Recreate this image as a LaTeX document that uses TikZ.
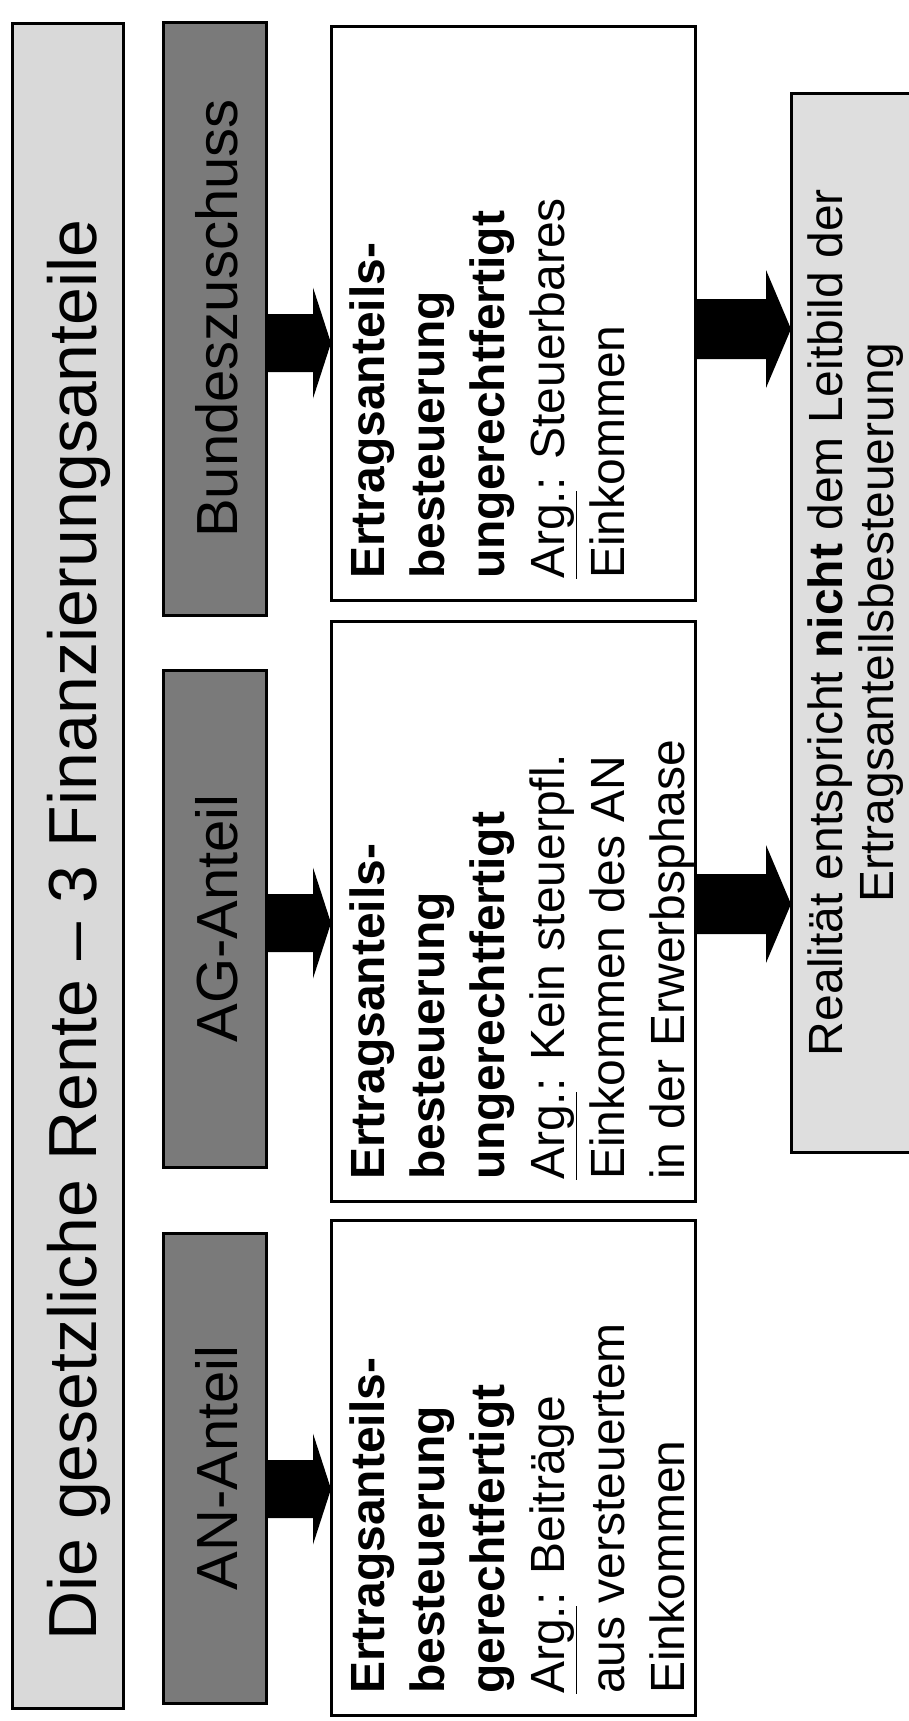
\documentclass[tikz,border=0pt]{standalone}
\usepackage{fontspec}
\setmainfont{Liberation Sans}
\usetikzlibrary{calc}
% block arrow from #1 to #2: shaft half width #3, head half width #4, head length #5
\newcommand{\blockarr}[5]{%
  \fill[black] let \p1=(#1), \p2=(#2) in
    (\x1,{\y1+#3}) -- ({\x2-#5},{\y1+#3}) -- ({\x2-#5},{\y1+#4}) -- (\x2,\y1) --
    ({\x2-#5},{\y1-#4}) -- ({\x2-#5},{\y1-#3}) -- (\x1,{\y1-#3}) -- cycle;}
\begin{document}
\begin{tikzpicture}[x=1pt,y=-1pt,
  box/.style={draw=black, line width=3pt, rectangle, inner sep=0pt, outer sep=0pt},
  titlebox/.style={box, fill=black!15},
  labelbox/.style={box, fill=black!52},
  textbox/.style={box, fill=white},
  resultbox/.style={box, fill=black!13},
  vtext/.style={rotate=90, inner sep=0pt, text=black},
  titletext/.style={vtext, anchor=base, font=\fontsize{68}{80}\selectfont},
  labeltext/.style={vtext, anchor=base, font=\fontsize{58}{70}\selectfont},
  bodytext/.style={vtext, anchor=north west, align=left, font=\fontsize{48}{60}\selectfont},
  resulttext/.style={vtext, anchor=north, align=center, font=\fontsize{48}{51}\selectfont}]

\useasboundingbox (0,0) rectangle (909,1721);

% boxes
\node[titlebox, minimum width=111pt, minimum height=1685pt] (title) at (67.5,865.5) {};
\node[labelbox, minimum width=103pt, minimum height=593pt] (bundG) at (214.5,318.5) {};
\node[labelbox, minimum width=103pt, minimum height=497pt] (agG) at (214.5,918.5) {};
\node[labelbox, minimum width=103pt, minimum height=470pt] (anG) at (214.5,1468) {};
\node[textbox, minimum width=364pt, minimum height=574pt] (bundW) at (513,313) {};
\node[textbox, minimum width=364pt, minimum height=580pt] (agW) at (513,911) {};
\node[textbox, minimum width=364pt, minimum height=495pt] (anW) at (513,1467.5) {};
\node[resultbox, minimum width=139pt, minimum height=1059pt] (result) at (860.5,622.5) {};

% texts
\node[titletext] (titleT) at (96,930) {Die gesetzliche Rente – 3 Finanzierungsanteile};
\node[labeltext] (bundL) at ($(bundG.center)+(22.5,0)$) {Bundeszuschuss};
\node[labeltext] (agL) at ($(agG.center)+(22.5,0)$) {AG-Anteil};
\node[labeltext] (anL) at ($(anG.center)+(22.5,0)$) {AN-Anteil};
\node[bodytext] (bundT) at ($(bundW.south west)+(19,-21)$)
  {\textbf{Ertragsanteils-}\\\textbf{besteuerung}\\\textbf{ungerechtfertigt}\\\underline{Arg.}: Steuerbares\\Einkommen};
\node[bodytext] (agT) at ($(agW.south west)+(19,-21)$)
  {\textbf{Ertragsanteils-}\\\textbf{besteuerung}\\\textbf{ungerechtfertigt}\\\underline{Arg.}: Kein steuerpfl.\\Einkommen des AN\\in der Erwerbsphase};
\node[bodytext] (anT) at ($(anW.south west)+(19,-21)$)
  {\textbf{Ertragsanteils-}\\\textbf{besteuerung}\\\textbf{gerechtfertigt}\\\underline{Arg.}: Beiträge\\aus versteuertem\\Einkommen};
\node[resulttext] (resT) at (808,622.5)
  {Realität entspricht \textbf{nicht} dem Leitbild der\\Ertragsanteilsbesteuerung};

% arrow levels
\coordinate (aBund) at (0,343);
\coordinate (aAG) at (0,923);
\coordinate (aAN) at (0,1489);
\coordinate (rBund) at (0,329);
\coordinate (rAG) at (0,904);

\blockarr{bundG.east |- aBund}{bundW.west |- aBund}{29pt}{55.5pt}{18pt}
\blockarr{agG.east |- aAG}{agW.west |- aAG}{29pt}{55.5pt}{18pt}
\blockarr{anG.east |- aAN}{anW.west |- aAN}{29pt}{55.5pt}{18pt}
\blockarr{bundW.east |- rBund}{result.west |- rBund}{30pt}{59pt}{25pt}
\blockarr{agW.east |- rAG}{result.west |- rAG}{30pt}{59pt}{25pt}
\end{tikzpicture}
\end{document}
